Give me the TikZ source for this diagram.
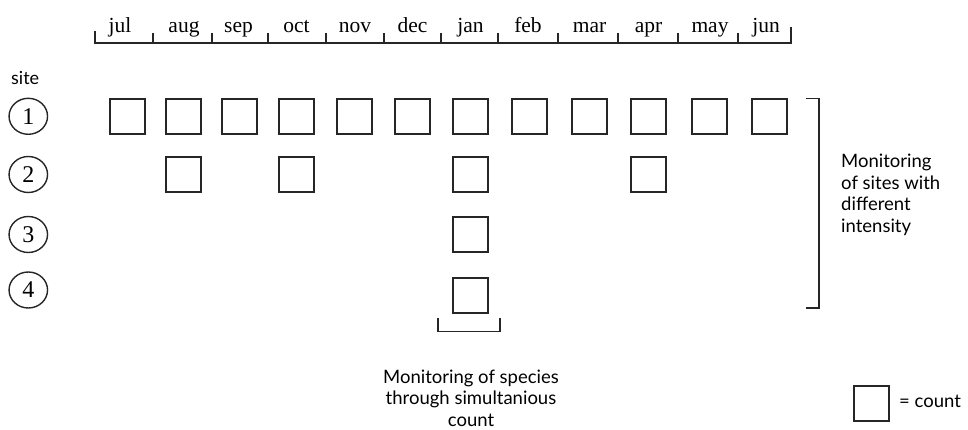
\documentclass[tikz,border=0pt]{standalone}
\usepackage{fontspec}
\setmainfont{Liberation Serif}
\newfontfamily\labelfont{Lato}
\usetikzlibrary{shapes.geometric}
\begin{document}
\begin{tikzpicture}[x=1pt,y=-1pt,
  cnt/.style={draw=black!85, line width=1.8pt, minimum width=35pt, minimum height=35pt, inner sep=0pt},
  sitec/.style={draw=black!85, line width=1.4pt, ellipse, minimum width=38.5pt, minimum height=36pt, inner sep=0pt, font=\fontsize{24}{24}\selectfont},
  mon/.style={anchor=base, inner sep=0pt, font=\fontsize{21.5}{21.5}\selectfont},
  axisline/.style={draw=black!85, line width=1.8pt},
  brk/.style={draw=black!85, line width=1.8pt},
  note/.style={inner sep=0pt, font=\labelfont\fontsize{18.5}{21.5}\selectfont}
]
\useasboundingbox (0,0) rectangle (968,430);

% month axis
\draw[axisline] (95,31) -- (95,43) -- (790.7,43) -- (790.7,27);
\foreach \t in {152.7,211.7,268.3,325.7,384,440.7,498.3,558.3,618.3,678.3,738.3}
  \draw[axisline] (\t,33) -- (\t,43);
\foreach \m/\x in {jul/120,aug/184,sep/238.5,oct/296.5,nov/355,dec/412.5,jan/470.5,feb/528,mar/589.5,apr/648.5,may/710,jun/766}
  \node[mon] (m-\m) at (\x,33) {\m};

% site labels
\node[note, anchor=base west, font=\labelfont\fontsize{18}{18}\selectfont] (site) at (11,85) {site};
\node[sitec] (s1) at (28.3,116.3) {1};
\node[sitec] (s2) at (28.3,174.5) {2};
\node[sitec] (s3) at (28.3,234.5) {3};
\node[sitec] (s4) at (28.3,290) {4};

% row 1
\foreach \c/\x in {1/127.5,2/183.5,3/239.5,4/296.5,5/354.5,6/412.5,7/470.5,8/529.5,9/589.5,10/648.5,11/709.5,12/769.5}
  \node[cnt] (r1-\c) at (\x,116.3) {};
% row 2
\node[cnt] (r2-2) at (183.5,174.5) {};
\node[cnt] (r2-4) at (296.5,174.5) {};
\node[cnt] (r2-7) at (470.5,174.5) {};
\node[cnt] (r2-10) at (648.5,174.5) {};
% rows 3, 4
\node[cnt] (r3-7) at (470.5,234.2) {};
\node[cnt] (r4-7) at (470.5,295.3) {};

% brackets
\draw[brk] (806,98.5) -- (819.3,98.5) -- (819.3,308.3) -- (806,308.3);
\draw[brk] (438.3,318) -- (438.3,331.5) -- (500,331.5) -- (500,318);

% notes (base anchor = baseline of the last line)
\node[note, anchor=base west, align=left] (sitesnote) at (841,232.5)
  {Monitoring\\of sites with\\different\\intensity};
\node[note, anchor=base, align=center] (speciesnote) at (471,426)
  {Monitoring of species\\through simultanious\\count};

% legend
\node[cnt] (legbox) at (871.5,403.5) {};
\node[note, anchor=base west] (legtext) at (899,407) {=\ count};
\end{tikzpicture}
\end{document}
